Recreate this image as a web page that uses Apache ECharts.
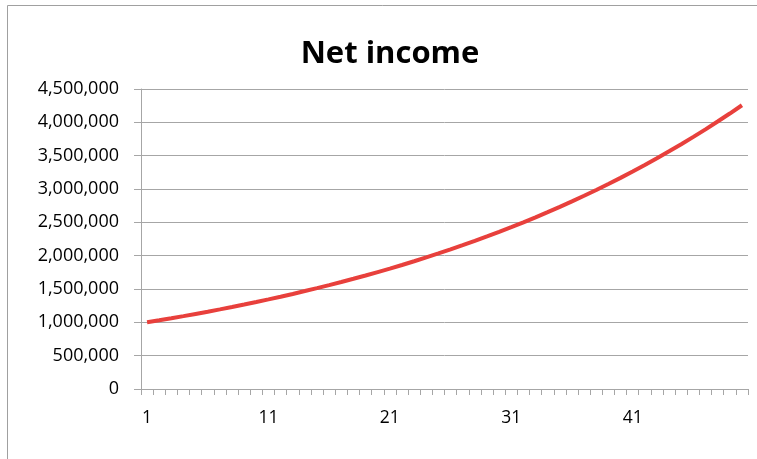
<!DOCTYPE html>
<html>
<head>
<meta charset="utf-8">
<script src="https://cdn.jsdelivr.net/npm/echarts@6/dist/echarts.min.js"></script>
<style>
html,body{margin:0;padding:0;background:#fff;}
#chart{width:757px;height:459px;}
</style>
</head>
<body>
<div id="chart"></div>
<script>
const titleText = 'Net income';
const categories = ['1','2','3','4','5','6','7','8','9','10','11','12','13','14','15','16','17','18','19','20','21','22','23','24','25','26','27','28','29','30','31','32','33','34','35','36','37','38','39','40','41','42','43','44','45','46','47','48','49','50'];
const netIncome = [1000000, 1030000, 1061000, 1093000, 1126000, 1159000, 1194000, 1230000, 1267000, 1305000,
  1344000, 1384000, 1426000, 1469000, 1513000, 1558000, 1605000, 1653000, 1702000, 1754000,
  1806000, 1860000, 1916000, 1974000, 2033000, 2094000, 2157000, 2221000, 2288000, 2357000,
  2427000, 2500000, 2575000, 2652000, 2732000, 2814000, 2898000, 2985000, 3075000, 3167000,
  3262000, 3360000, 3461000, 3565000, 3671000, 3782000, 3895000, 4012000, 4132000, 4256000];
const yMin = 0, yMax = 4500000, yStep = 500000;

const chart = echarts.init(document.getElementById('chart'));
const grey = '#A6A6A6';
chart.setOption({
  animation: false,
  backgroundColor: '#fff',
  title: {
    text: titleText,
    left: 385, top: 34, textAlign: 'center',
    textStyle: {fontFamily: 'Open Sans', fontWeight: 'bold', fontSize: 31, color: '#000'}
  },
  graphic: [
    {type: 'line', shape: {x1: 7.5, y1: 5.5, x2: 757, y2: 5.5}, style: {stroke: '#A0A0A0', lineWidth: 1}},
    {type: 'line', shape: {x1: 7.5, y1: 5.5, x2: 7.5, y2: 459}, style: {stroke: '#A0A0A0', lineWidth: 1}}
  ],
  grid: {left: 141, top: 89, width: 607, height: 300, containLabel: false},
  xAxis: {
    type: 'category',
    data: categories,
    boundaryGap: true,
    axisLine: {show: true, lineStyle: {color: grey, width: 1}},
    axisTick: {show: true, interval: 0, length: 6, lineStyle: {color: grey}},
    axisLabel: {interval: 9, margin: 20, color: '#000', fontFamily: 'Open Sans', fontSize: 17.5},
    splitLine: {show: false}
  },
  yAxis: {
    type: 'value',
    min: yMin, max: yMax, interval: yStep,
    axisLine: {show: true, lineStyle: {color: grey, width: 1}},
    axisTick: {show: true, inside: false, length: 7, lineStyle: {color: grey, width: 1}},
    axisLabel: {margin: 22, color: '#000', fontFamily: 'Open Sans', fontSize: 18,
      formatter: v => v.toLocaleString('en-US')},
    splitLine: {show: true, lineStyle: {color: grey, width: 1}}
  },
  series: [{
    type: 'line',
    data: netIncome,
    symbol: 'none',
    lineStyle: {color: '#E8403C', width: 4},
    itemStyle: {color: '#E8403C'}
  }]
});
</script>
</body>
</html>
